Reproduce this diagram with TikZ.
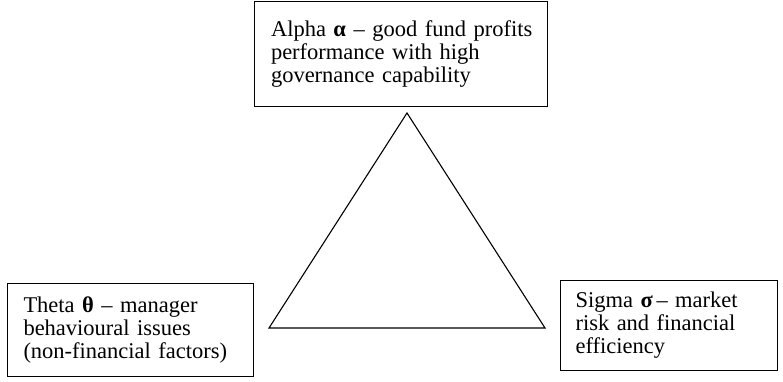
\documentclass[tikz,border=0pt]{standalone}
\usepackage{fontspec}
\setmainfont{Liberation Serif}
\usetikzlibrary{positioning}

\begin{document}
\begin{tikzpicture}[
    x=1pt, y=-1pt,
    font=\fontsize{22.5}{23}\selectfont,
    factorbox/.style={draw, line width=1.0pt, anchor=north west, align=left, inner ysep=0pt},
    tri/.style={line width=1.1pt, line join=miter}
]
  \useasboundingbox (0,0) rectangle (783,382);

  \node[factorbox, inner xsep=15pt, text width=263pt, minimum height=105pt] (alpha) at (254,1)
    {\hspace*{1.5pt}Alpha \textbf{α} -- good fund profits\\ \hspace*{1.5pt}performance with high\\ \hspace*{1.5pt}governance capability};

  \node[factorbox, inner xsep=16pt, text width=214pt, minimum height=93pt] (theta) at (7,283)
    {Theta \textbf{θ} -- manager\\ behavioural issues\\ (non-financial factors)};

  \node[factorbox, inner xsep=15pt, text width=187pt, minimum height=90pt] (sigma) at (560,280)
    {Sigma \textbf{σ}\,-- market\\ risk and financial\\ efficiency};

  % the triangle between the three factors
  \coordinate (apex) at (407,113);
  \coordinate (baseL) at (269,328);
  \coordinate (baseR) at (545,328);
  \draw[tri] (apex) -- (baseR) -- (baseL) -- cycle;
\end{tikzpicture}
\end{document}
